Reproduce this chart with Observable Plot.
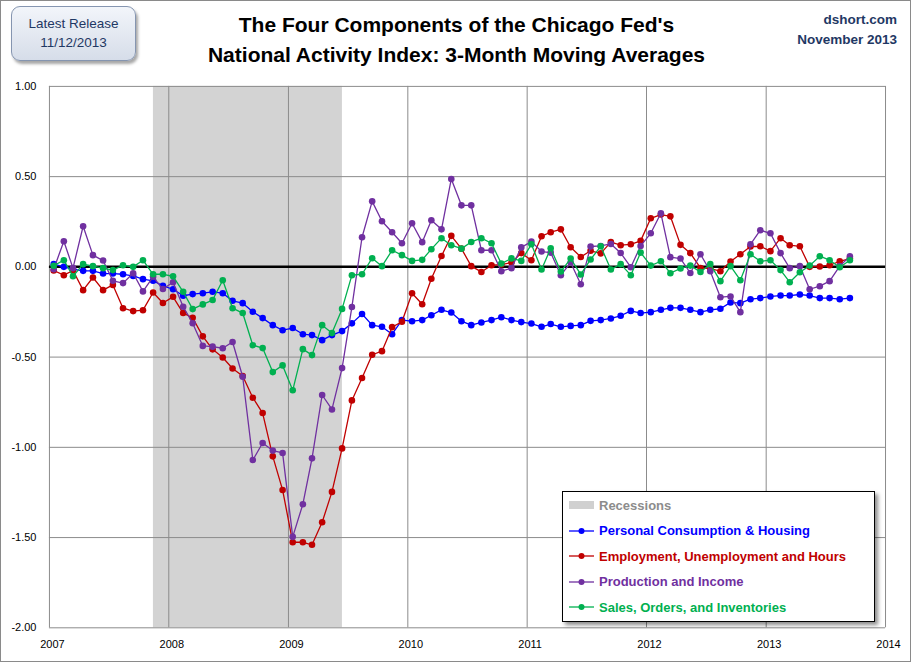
<!DOCTYPE html>
<html><head><meta charset="utf-8">
<script src="https://cdn.jsdelivr.net/npm/d3@7"></script>
<script src="https://cdn.jsdelivr.net/npm/@observablehq/plot@0.6"></script>
<style>
body{margin:0;background:#fff;}
#wrap{position:relative;width:911px;height:662px;box-sizing:border-box;border:1px solid #8a8a8a;overflow:hidden;font-family:"Liberation Sans",Arial,sans-serif;background:#fff;}
#chart{position:absolute;left:-1px;top:-1px;}
.badge{position:absolute;left:10px;top:5px;width:125px;height:55px;box-sizing:border-box;border:1px solid #8595b0;border-radius:9px;background:linear-gradient(#f2f5fa,#d6dde9);box-shadow:2px 3px 3px rgba(0,0,0,0.35);text-align:center;color:#1f3864;font-family:"Liberation Sans Narrow","Arial Narrow",sans-serif;font-size:13.5px;line-height:19px;padding-top:7px;}
.title{position:absolute;left:0;width:911px;top:9px;text-align:center;font-family:"Liberation Sans Narrow","Arial Narrow",sans-serif;font-weight:bold;font-size:21px;line-height:30px;color:#000;}
.src{position:absolute;right:13px;top:9px;text-align:right;font-family:"Liberation Sans Narrow","Arial Narrow",sans-serif;font-weight:bold;font-size:13.5px;line-height:20px;color:#1f3864;}
.legend{position:absolute;left:561px;top:490px;width:313px;height:131px;box-sizing:border-box;border:1px solid #000;background:#fff;box-shadow:3px 3px 4px rgba(0,0,0,0.45);}
.row{position:absolute;left:6px;height:20px;display:flex;align-items:center;font-weight:bold;font-size:13px;white-space:nowrap;}
.row svg{margin-right:4px;}
</style></head>
<body><div id="wrap">
<div id="chart"></div>
<div class="badge">Latest Release<br>11/12/2013</div>
<div class="title">The Four Components of the Chicago Fed's<br>National Activity Index: 3-Month Moving Averages</div>
<div class="src">dshort.com<br>November 2013</div>
<div class="legend" id="legend"></div>
</div>
<script>
// Monthly 3-month moving averages, Jan 2007 – Sep 2013
const seriesNames = ["Personal Consumption & Housing","Employment, Unemployment and Hours","Production and Income","Sales, Orders, and Inventories"];
const seriesColors = ["#0000ff","#c00000","#7030a0","#00b050"];

const consumption = [0.015,0.0,-0.013,-0.022,-0.022,-0.037,-0.037,-0.041,-0.05,-0.068,-0.077,-0.105,-0.124,-0.16,-0.151,-0.146,-0.138,-0.146,-0.188,-0.201,-0.249,-0.284,-0.323,-0.351,-0.339,-0.373,-0.378,-0.406,-0.378,-0.356,-0.313,-0.261,-0.323,-0.332,-0.373,-0.295,-0.301,-0.295,-0.268,-0.238,-0.253,-0.301,-0.323,-0.308,-0.295,-0.279,-0.295,-0.306,-0.314,-0.332,-0.317,-0.332,-0.327,-0.323,-0.299,-0.295,-0.286,-0.271,-0.244,-0.256,-0.251,-0.238,-0.227,-0.227,-0.238,-0.251,-0.238,-0.232,-0.197,-0.201,-0.179,-0.173,-0.164,-0.159,-0.159,-0.153,-0.159,-0.173,-0.173,-0.179,-0.173];
const employment = [-0.02,-0.046,-0.02,-0.129,-0.059,-0.129,-0.1,-0.229,-0.245,-0.24,-0.142,-0.2,-0.166,-0.256,-0.282,-0.385,-0.457,-0.502,-0.563,-0.605,-0.725,-0.81,-1.05,-1.236,-1.526,-1.526,-1.54,-1.415,-1.247,-1.006,-0.74,-0.616,-0.487,-0.467,-0.334,-0.304,-0.146,-0.207,-0.066,0.06,0.172,0.101,0.004,-0.028,0.009,0.013,0.024,0.076,0.037,0.17,0.192,0.208,0.109,0.055,0.089,0.075,0.137,0.12,0.125,0.144,0.269,0.29,0.28,0.122,0.076,-0.006,-0.01,-0.024,0.03,0.07,0.113,0.114,0.087,0.159,0.12,0.114,0.0,0.002,0.009,0.031,0.046];
const production = [-0.013,0.142,-0.007,0.225,0.065,0.035,-0.077,-0.09,-0.035,-0.136,-0.055,-0.123,-0.085,-0.221,-0.312,-0.438,-0.442,-0.451,-0.416,-0.609,-1.07,-0.976,-1.018,-1.031,-1.496,-1.315,-1.061,-0.71,-0.79,-0.561,-0.222,0.164,0.363,0.253,0.192,0.131,0.242,0.137,0.258,0.208,0.487,0.341,0.341,0.092,0.092,-0.024,-0.007,0.108,0.14,0.085,0.079,-0.046,0.024,-0.096,0.113,0.116,0.127,0.077,-0.002,0.116,0.186,0.297,0.054,0.046,-0.034,0.07,-0.024,-0.168,-0.164,-0.251,0.125,0.203,0.186,0.076,-0.007,0.004,-0.124,-0.107,-0.079,0.004,0.059];
const sales = [0.006,0.037,-0.052,0.015,0.004,-0.007,-0.018,0.009,0.0,0.037,-0.041,-0.041,-0.052,-0.138,-0.234,-0.208,-0.184,-0.074,-0.229,-0.256,-0.434,-0.45,-0.583,-0.546,-0.684,-0.456,-0.489,-0.323,-0.367,-0.233,-0.046,-0.041,0.048,0.004,0.092,0.065,0.033,0.039,0.098,0.159,0.12,0.101,0.138,0.159,0.131,0.018,0.047,0.033,0.125,-0.015,0.103,-0.026,0.046,-0.042,0.041,0.114,-0.015,0.015,-0.046,0.079,0.007,0.031,-0.035,-0.009,0.007,-0.028,0.015,-0.079,0.004,-0.074,0.07,0.031,0.037,-0.018,-0.085,-0.03,0.007,0.059,0.037,-0.002,0.037];

const yearLabels = [2007,2008,2009,2010,2011,2012,2013,2014];
const yTicks = [1.0,0.5,0.0,-0.5,-1.0,-1.5,-2.0];
const recession = [{start:"2007-11-15", end:"2009-06-15"}];

const months = consumption.map((_, i) => new Date(Date.UTC(2007, i, 14)));
const allSeries = [consumption, employment, production, sales];
const years = yearLabels.map(y => new Date(Date.UTC(y, 0, 1)));
const recRows = recession.map(r => ({x1:new Date(r.start+"T00:00Z"), x2:new Date(r.end+"T00:00Z"), y1:-2, y2:1}));

const seriesMarks = [];
allSeries.forEach((vals, k) => {
  const rows = vals.map((v, i) => ({date: months[i], value: v}));
  seriesMarks.push(Plot.line(rows, {x:"date", y:"value", stroke: seriesColors[k], strokeWidth: 1.3}));
  seriesMarks.push(Plot.dot(rows, {x:"date", y:"value", fill: seriesColors[k], r: 3.3}));
});

const chart = Plot.plot({
  width: 911, height: 662,
  marginLeft: 49, marginRight: 25, marginTop: 86, marginBottom: 34,
  x: {type:"utc", domain:[years[0], years[years.length-1]]},
  y: {domain:[-2, 1]},
  style: {fontFamily:"'Liberation Sans', Arial, sans-serif", fontSize:"11px", color:"#000", background:"transparent"},
  marks: [
    Plot.rect(recRows, {x1:"x1", x2:"x2", y1:"y1", y2:"y2", fill:"#d3d3d3"}),
    Plot.gridX(years, {stroke:"#8c8c8c", strokeOpacity:1}),
    Plot.gridY(yTicks, {stroke:"#8c8c8c", strokeOpacity:1}),
    Plot.ruleY([0], {stroke:"#000", strokeWidth:2.5}),
    Plot.axisY(yTicks, {tickSize:0, tickPadding:13, tickFormat: d => d.toFixed(2), label:null, fontSize:11}),
    Plot.axisX(years, {tickSize:0, tickPadding:12, tickFormat: d => String(d.getUTCFullYear()), label:null, dx:3, fontSize:11}),
    ...seriesMarks
  ]
});
document.getElementById("chart").appendChild(chart);

// legend
const leg = document.getElementById("legend");
const rowsTop = [3, 28.5, 54, 79.5, 105];
let html = `<div class="row" style="top:${rowsTop[0]}px;color:#8c8c8c"><svg width="26" height="10"><rect x="0" y="1" width="25" height="8" fill="#d0d0d0"/></svg>Recessions</div>`;
seriesNames.forEach((n, k) => {
  html += `<div class="row" style="top:${rowsTop[k+1]}px;color:${seriesColors[k]}"><svg width="26" height="10"><line x1="0" y1="5" x2="25" y2="5" stroke="${seriesColors[k]}" stroke-width="1.3"/><circle cx="12.5" cy="5" r="3" fill="${seriesColors[k]}"/></svg>${n}</div>`;
});
leg.innerHTML = html;
</script>
</body></html>
